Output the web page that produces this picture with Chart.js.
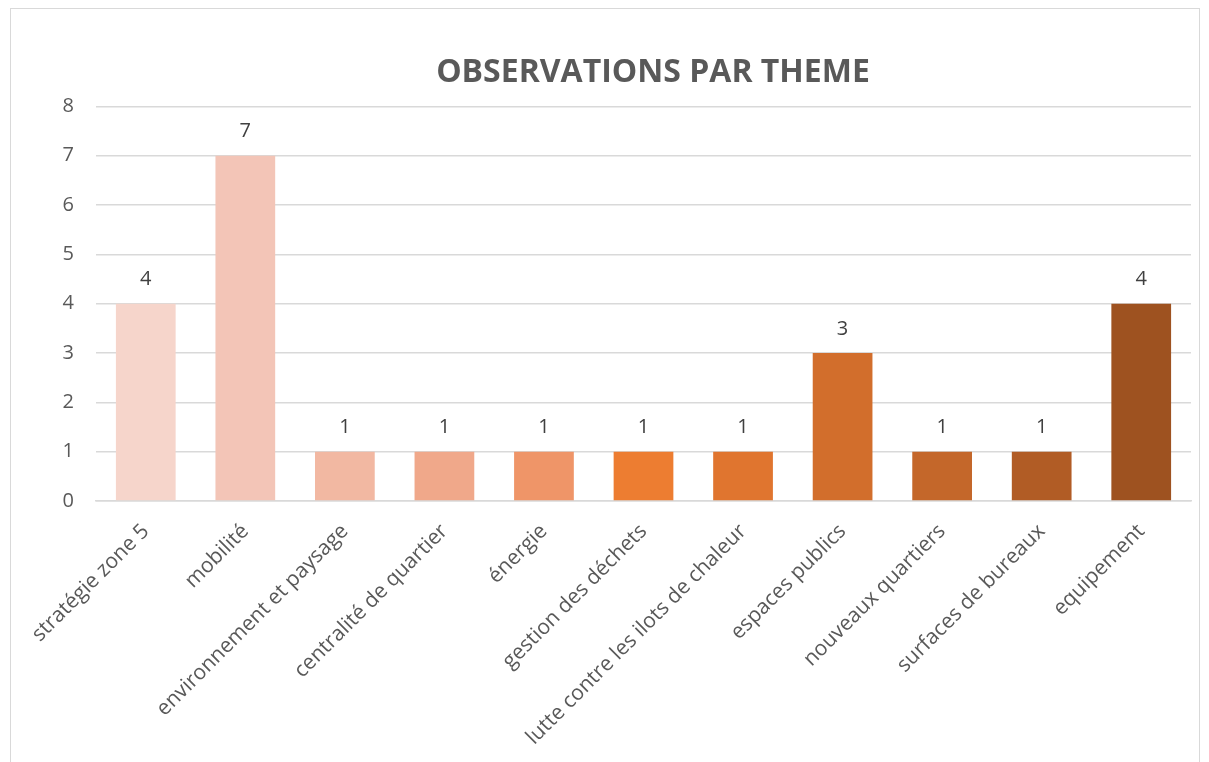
<!DOCTYPE html>
<html>
<head>
<meta charset="utf-8">
<script src="https://cdn.jsdelivr.net/npm/chart.js@4"></script>
<style>
  html, body { margin: 0; padding: 0; background: #fff; }
  #frame { position: absolute; left: 10px; top: 8px; width: 1190px; height: 800px; border: 1px solid #d9d9d9; box-sizing: border-box; }
  #wrap { position: absolute; left: 0; top: 0; width: 1209px; height: 762px; }
</style>
</head>
<body>
<div id="frame"></div>
<div id="wrap"><canvas id="chart" width="1209" height="762"></canvas></div>
<script>
const categories = [
  "stratégie zone 5", "mobilité", "environnement et paysage", "centralité de quartier",
  "énergie", "gestion des déchets", "lutte contre les ilots de chaleur", "espaces publics",
  "nouveaux quartiers", "surfaces de bureaux", "equipement"
];
const observations = [4, 7, 1, 1, 1, 1, 1, 3, 1, 1, 4];
const barColors = [
  "#F6D5CB", "#F3C5B7", "#F2B8A2", "#F0A88A", "#EF9568", "#ED7D31",
  "#E0752F", "#D26E2C", "#C4672A", "#B15C25", "#9E5220"
];
const yTicks = [0, 1, 2, 3, 4, 5, 6, 7, 8];

const fontFamily = "'Open Sans', 'DejaVu Sans', sans-serif";

// value labels above each bar
const valueLabels = {
  id: "valueLabels",
  afterDatasetsDraw(chart) {
    const ctx = chart.ctx;
    const meta = chart.getDatasetMeta(0);
    ctx.save();
    ctx.font = "20px " + fontFamily;
    ctx.fillStyle = "#404040";
    ctx.textAlign = "center";
    ctx.textBaseline = "middle";
    meta.data.forEach((bar, i) => {
      ctx.fillText(String(observations[i]), bar.x, bar.y - 24);
    });
    ctx.restore();
  }
};

// shift the title a bit right, as in the original
const titleShift = {
  id: "titleShift",
  afterLayout(chart) {
    if (chart.titleBlock) chart.titleBlock.left = chart.chartArea.left + 19;
  }
};

new Chart(document.getElementById("chart").getContext("2d"), {
  type: "bar",
  data: {
    labels: categories,
    datasets: [{
      label: "Observations",
      data: observations,
      backgroundColor: barColors,
      borderWidth: 0,
      barPercentage: 0.6,
      categoryPercentage: 1.0
    }]
  },
  options: {
    responsive: false,
    animation: false,
    layout: { padding: { left: 0, right: 18, top: 0, bottom: 0 } },
    plugins: {
      legend: { display: false },
      tooltip: { enabled: false },
      title: {
        display: true,
        text: "OBSERVATIONS PAR THEME",
        color: "#595959",
        font: { family: fontFamily, size: 32, weight: "bold" },
        padding: { top: 54, bottom: 14 }
      }
    },
    scales: {
      x: {
        grid: { display: false },
        border: { display: true, color: "#d9d9d9", width: 1.5 },
        ticks: {
          color: "#595959",
          font: { family: fontFamily, size: 21 },
          minRotation: 45,
          maxRotation: 45,
          padding: 10
        },
        afterFit(scale) { scale.height = 261; }
      },
      y: {
        min: 0,
        max: 8,
        afterBuildTicks(scale) { scale.ticks = yTicks.map(v => ({ value: v })); },
        grid: { color: "#d9d9d9", lineWidth: 1.5, drawTicks: false },
        border: { display: false },
        ticks: {
          color: "#595959",
          font: { family: fontFamily, size: 20 },
          padding: 22
        },
        afterFit(scale) { scale.width = 96; }
      }
    }
  },
  plugins: [valueLabels, titleShift]
});
</script>
</body>
</html>
